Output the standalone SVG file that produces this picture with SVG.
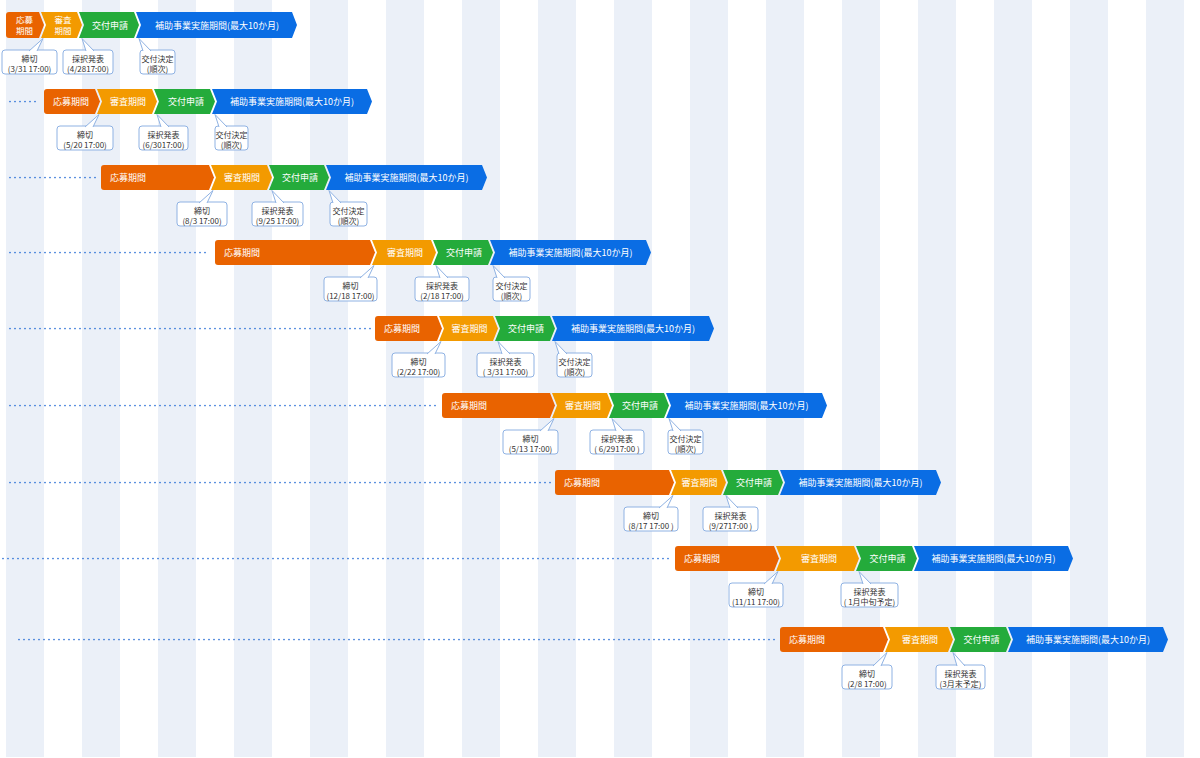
<svg xmlns="http://www.w3.org/2000/svg" width="1200" height="758" viewBox="0 0 1200 758">
<defs>
<style>
.bg{fill:#ffffff}
.st{fill:#ebf0f8}
.o{fill:#e96300}
.y{fill:#f39a00}
.g{fill:#24ab3b}
.b{fill:#0a6de4}
.t{fill:#ffffff;font-family:"Noto Sans CJK JP","Noto Sans",sans-serif;font-size:9px}
.t2{fill:#ffffff;font-family:"Noto Sans CJK JP","Noto Sans",sans-serif;font-size:8.5px;text-anchor:middle}
.c{text-anchor:middle}
.cb{fill:#ffffff;stroke:#8fb2e3;stroke-width:1}
.ct{fill:#333333;font-family:"Noto Sans CJK JP","Noto Sans",sans-serif;font-size:8px;text-anchor:middle}
.dot{fill:none;stroke:#2a6fd6;stroke-width:1.7;stroke-linecap:round;stroke-dasharray:0 5}
</style>
</defs>
<rect class="bg" x="0" y="0" width="1200" height="758"/>
<g id="stripes">
<rect class="st" x="6" y="0" width="38" height="757"/>
<rect class="st" x="82" y="0" width="38" height="757"/>
<rect class="st" x="158" y="0" width="38" height="757"/>
<rect class="st" x="234" y="0" width="38" height="757"/>
<rect class="st" x="310" y="0" width="38" height="757"/>
<rect class="st" x="386" y="0" width="38" height="757"/>
<rect class="st" x="462" y="0" width="38" height="757"/>
<rect class="st" x="538" y="0" width="38" height="757"/>
<rect class="st" x="614" y="0" width="38" height="757"/>
<rect class="st" x="690" y="0" width="38" height="757"/>
<rect class="st" x="766" y="0" width="38" height="757"/>
<rect class="st" x="842" y="0" width="38" height="757"/>
<rect class="st" x="918" y="0" width="38" height="757"/>
<rect class="st" x="994" y="0" width="38" height="757"/>
<rect class="st" x="1070" y="0" width="38" height="757"/>
<rect class="st" x="1146" y="0" width="38" height="757"/>
</g>
<g id="connectors">
<line class="dot" x1="10" y1="101.5" x2="40" y2="101.5"/>
<line class="dot" x1="10" y1="177.5" x2="96" y2="177.5"/>
<line class="dot" x1="10" y1="252.5" x2="210" y2="252.5"/>
<line class="dot" x1="10" y1="328.5" x2="371" y2="328.5"/>
<line class="dot" x1="10" y1="405.5" x2="437" y2="405.5"/>
<line class="dot" x1="10" y1="482.5" x2="551" y2="482.5"/>
<line class="dot" x1="3" y1="558.5" x2="671" y2="558.5"/>
<line class="dot" x1="19" y1="639.5" x2="775" y2="639.5"/>
</g>

<g id="row1">
<g id="r1-apply"><path class="o" d="M9,12 H39 L44,25 L39,38 H9 Q6,38 6,35 V15 Q6,12 9,12 Z"/><text class="t2" x="24.5" y="23"><tspan x="24.5" y="23">応募</tspan><tspan x="24.5" y="33.5">期間</tspan></text></g>
<g id="r1-review"><path class="y" d="M41,12 H77 L82,25 L77,38 H41 L46,25 Z"/><text class="t2" x="63" y="23"><tspan x="63" y="23">審査</tspan><tspan x="63" y="33.5">期間</tspan></text></g>
<g id="r1-grant"><path class="g" d="M79,12 H134 L139,25 L134,38 H79 L84,25 Z"/><text class="t c" x="110" y="28.5">交付申請</text></g>
<g id="r1-impl"><path class="b" d="M136,12 H292 L297,25 L292,38 H136 L141,25 Z"/><text class="t c" x="217" y="28.5">補助事業実施期間(最大10か月)</text></g>
<g id="r1-c1"><rect class="cb" x="2" y="50" width="55" height="24" rx="3"/><polyline class="cb" points="29,51 43,38.5 37,51"/><text class="ct" x="29.5" y="62">締切</text><text class="ct" x="29.5" y="71.5">(3/31 17:00)</text></g>
<g id="r1-c2"><rect class="cb" x="63" y="50" width="50" height="24" rx="3"/><polyline class="cb" points="86,51 82,38.5 94,51"/><text class="ct" x="88" y="62">採択発表</text><text class="ct" x="88" y="71.5">(4/2817:00)</text></g>
<g id="r1-c3"><rect class="cb" x="140" y="50" width="35" height="24" rx="3"/><polyline class="cb" points="143,51 139,38.5 151,51"/><text class="ct" x="157.5" y="62">交付決定</text><text class="ct" x="157.5" y="71.5">(順次)</text></g>
</g>

<g id="row2">
<g id="r2-apply"><path class="o" d="M47,89 H95 L100,101.5 L95,114 H47 Q44,114 44,111 V92 Q44,89 47,89 Z"/><text class="t" x="53" y="104.7">応募期間</text></g>
<g id="r2-review"><path class="y" d="M97,89 H152 L157,101.5 L152,114 H97 L102,101.5 Z"/><text class="t c" x="128" y="104.7">審査期間</text></g>
<g id="r2-grant"><path class="g" d="M154,89 H210 L215,101.5 L210,114 H154 L159,101.5 Z"/><text class="t c" x="186" y="104.7">交付申請</text></g>
<g id="r2-impl"><path class="b" d="M212,89 H367 L372,101.5 L367,114 H212 L217,101.5 Z"/><text class="t c" x="292" y="104.7">補助事業実施期間(最大10か月)</text></g>
<g id="r2-c1"><rect class="cb" x="57" y="126" width="56" height="24" rx="3"/><polyline class="cb" points="85,127 99,114.5 93,127"/><text class="ct" x="85" y="138">締切</text><text class="ct" x="85" y="147.5">(5/20 17:00)</text></g>
<g id="r2-c2"><rect class="cb" x="139" y="126" width="49" height="24" rx="3"/><polyline class="cb" points="161,127 157,114.5 169,127"/><text class="ct" x="163.5" y="138">採択発表</text><text class="ct" x="163.5" y="147.5">(6/3017:00)</text></g>
<g id="r2-c3"><rect class="cb" x="215" y="126" width="33" height="24" rx="3"/><polyline class="cb" points="219,127 215,114.5 227,127"/><text class="ct" x="231.5" y="138">交付決定</text><text class="ct" x="231.5" y="147.5">(順次)</text></g>
</g>

<g id="row3">
<g id="r3-apply"><path class="o" d="M104,165 H209 L214,177.5 L209,190 H104 Q101,190 101,187 V168 Q101,165 104,165 Z"/><text class="t" x="110" y="180.7">応募期間</text></g>
<g id="r3-review"><path class="y" d="M211,165 H267 L272,177.5 L267,190 H211 L216,177.5 Z"/><text class="t c" x="242" y="180.7">審査期間</text></g>
<g id="r3-grant"><path class="g" d="M269,165 H324 L329,177.5 L324,190 H269 L274,177.5 Z"/><text class="t c" x="300" y="180.7">交付申請</text></g>
<g id="r3-impl"><path class="b" d="M326,165 H482 L487,177.5 L482,190 H326 L331,177.5 Z"/><text class="t c" x="406.5" y="180.7">補助事業実施期間(最大10か月)</text></g>
<g id="r3-c1"><rect class="cb" x="177" y="202" width="50" height="24" rx="3"/><polyline class="cb" points="199,203 213,190.5 207,203"/><text class="ct" x="202" y="214">締切</text><text class="ct" x="202" y="223.5">(8/3 17:00)</text></g>
<g id="r3-c2"><rect class="cb" x="252" y="202" width="51" height="24" rx="3"/><polyline class="cb" points="276,203 272,190.5 284,203"/><text class="ct" x="277.5" y="214">採択発表</text><text class="ct" x="277.5" y="223.5">(9/25 17:00)</text></g>
<g id="r3-c3"><rect class="cb" x="330" y="202" width="37" height="24" rx="3"/><polyline class="cb" points="333,203 329,190.5 341,203"/><text class="ct" x="348.5" y="214">交付決定</text><text class="ct" x="348.5" y="223.5">(順次)</text></g>
</g>

<g id="row4">
<g id="r4-apply"><path class="o" d="M218,240 H370 L375,252.5 L370,265 H218 Q215,265 215,262 V243 Q215,240 218,240 Z"/><text class="t" x="224" y="255.7">応募期間</text></g>
<g id="r4-review"><path class="y" d="M372,240 H431 L436,252.5 L431,265 H372 L377,252.5 Z"/><text class="t c" x="405" y="255.7">審査期間</text></g>
<g id="r4-grant"><path class="g" d="M433,240 H488 L493,252.5 L488,265 H433 L438,252.5 Z"/><text class="t c" x="464" y="255.7">交付申請</text></g>
<g id="r4-impl"><path class="b" d="M490,240 H646 L651,252.5 L646,265 H490 L495,252.5 Z"/><text class="t c" x="570.5" y="255.7">補助事業実施期間(最大10か月)</text></g>
<g id="r4-c1"><rect class="cb" x="324" y="277" width="53" height="24" rx="3"/><polyline class="cb" points="360,278 374,265.5 368,278"/><text class="ct" x="350.5" y="289">締切</text><text class="ct" x="350.5" y="298.5">(12/18 17:00)</text></g>
<g id="r4-c2"><rect class="cb" x="415" y="277" width="54" height="24" rx="3"/><polyline class="cb" points="440,278 436,265.5 448,278"/><text class="ct" x="442" y="289">採択発表</text><text class="ct" x="442" y="298.5">(2/18 17:00)</text></g>
<g id="r4-c3"><rect class="cb" x="493" y="277" width="37" height="24" rx="3"/><polyline class="cb" points="497,278 493,265.5 505,278"/><text class="ct" x="511.5" y="289">交付決定</text><text class="ct" x="511.5" y="298.5">(順次)</text></g>
</g>

<g id="row5">
<g id="r5-apply"><path class="o" d="M378,316 H437 L442,328.5 L437,341 H378 Q375,341 375,338 V319 Q375,316 378,316 Z"/><text class="t" x="384" y="331.7">応募期間</text></g>
<g id="r5-review"><path class="y" d="M439,316 H493 L498,328.5 L493,341 H439 L444,328.5 Z"/><text class="t c" x="469.5" y="331.7">審査期間</text></g>
<g id="r5-grant"><path class="g" d="M495,316 H550 L555,328.5 L550,341 H495 L500,328.5 Z"/><text class="t c" x="526" y="331.7">交付申請</text></g>
<g id="r5-impl"><path class="b" d="M552,316 H709 L714,328.5 L709,341 H552 L557,328.5 Z"/><text class="t c" x="633" y="331.7">補助事業実施期間(最大10か月)</text></g>
<g id="r5-c1"><rect class="cb" x="392" y="353" width="53" height="24" rx="3"/><polyline class="cb" points="427,354 441,341.5 435,354"/><text class="ct" x="418.5" y="365">締切</text><text class="ct" x="418.5" y="374.5">(2/22 17:00)</text></g>
<g id="r5-c2"><rect class="cb" x="477" y="353" width="57" height="24" rx="3"/><polyline class="cb" points="502,354 498,341.5 510,354"/><text class="ct" x="505.5" y="365">採択発表</text><text class="ct" x="505.5" y="374.5">( 3/31 17:00)</text></g>
<g id="r5-c3"><rect class="cb" x="557" y="353" width="35" height="24" rx="3"/><polyline class="cb" points="559,354 555,341.5 567,354"/><text class="ct" x="574.5" y="365">交付決定</text><text class="ct" x="574.5" y="374.5">(順次)</text></g>
</g>

<g id="row6">
<g id="r6-apply"><path class="o" d="M445,393 H550 L555,405.5 L550,418 H445 Q442,418 442,415 V396 Q442,393 445,393 Z"/><text class="t" x="451" y="408.7">応募期間</text></g>
<g id="r6-review"><path class="y" d="M552,393 H607 L612,405.5 L607,418 H552 L557,405.5 Z"/><text class="t c" x="583" y="408.7">審査期間</text></g>
<g id="r6-grant"><path class="g" d="M609,393 H664 L669,405.5 L664,418 H609 L614,405.5 Z"/><text class="t c" x="640" y="408.7">交付申請</text></g>
<g id="r6-impl"><path class="b" d="M666,393 H822 L827,405.5 L822,418 H666 L671,405.5 Z"/><text class="t c" x="746.5" y="408.7">補助事業実施期間(最大10か月)</text></g>
<g id="r6-c1"><rect class="cb" x="503" y="430" width="55" height="24" rx="3"/><polyline class="cb" points="540,431 554,418.5 548,431"/><text class="ct" x="530.5" y="442">締切</text><text class="ct" x="530.5" y="451.5">(5/13 17:00)</text></g>
<g id="r6-c2"><rect class="cb" x="590" y="430" width="54" height="24" rx="3"/><polyline class="cb" points="616,431 612,418.5 624,431"/><text class="ct" x="617" y="442">採択発表</text><text class="ct" x="617" y="451.5">( 6/2917:00 )</text></g>
<g id="r6-c3"><rect class="cb" x="668" y="430" width="35" height="24" rx="3"/><polyline class="cb" points="673,431 669,418.5 681,431"/><text class="ct" x="685.5" y="442">交付決定</text><text class="ct" x="685.5" y="451.5">(順次)</text></g>
</g>

<g id="row7">
<g id="r7-apply"><path class="o" d="M558,470 H669 L674,482.5 L669,495 H558 Q555,495 555,492 V473 Q555,470 558,470 Z"/><text class="t" x="564" y="485.7">応募期間</text></g>
<g id="r7-review"><path class="y" d="M671,470 H721 L726,482.5 L721,495 H671 L676,482.5 Z"/><text class="t c" x="699.5" y="485.7">審査期間</text></g>
<g id="r7-grant"><path class="g" d="M723,470 H778 L783,482.5 L778,495 H723 L728,482.5 Z"/><text class="t c" x="754" y="485.7">交付申請</text></g>
<g id="r7-impl"><path class="b" d="M780,470 H936 L941,482.5 L936,495 H780 L785,482.5 Z"/><text class="t c" x="860.5" y="485.7">補助事業実施期間(最大10か月)</text></g>
<g id="r7-c1"><rect class="cb" x="624" y="507" width="54" height="24" rx="3"/><polyline class="cb" points="659,508 673,495.5 667,508"/><text class="ct" x="651" y="519">締切</text><text class="ct" x="651" y="528.5">(8/17 17:00 )</text></g>
<g id="r7-c2"><rect class="cb" x="703" y="507" width="55" height="24" rx="3"/><polyline class="cb" points="730,508 726,495.5 738,508"/><text class="ct" x="730.5" y="519">採択発表</text><text class="ct" x="730.5" y="528.5">(9/2717:00 )</text></g>
</g>

<g id="row8">
<g id="r8-apply"><path class="o" d="M678,546 H774 L779,558.5 L774,571 H678 Q675,571 675,568 V549 Q675,546 678,546 Z"/><text class="t" x="684" y="561.7">応募期間</text></g>
<g id="r8-review"><path class="y" d="M776,546 H854 L859,558.5 L854,571 H776 L781,558.5 Z"/><text class="t c" x="819" y="561.7">審査期間</text></g>
<g id="r8-grant"><path class="g" d="M856,546 H912 L917,558.5 L912,571 H856 L861,558.5 Z"/><text class="t c" x="887.5" y="561.7">交付申請</text></g>
<g id="r8-impl"><path class="b" d="M914,546 H1068 L1073,558.5 L1068,571 H914 L919,558.5 Z"/><text class="t c" x="993.5" y="561.7">補助事業実施期間(最大10か月)</text></g>
<g id="r8-c1"><rect class="cb" x="729" y="583" width="54" height="24" rx="3"/><polyline class="cb" points="764,584 778,571.5 772,584"/><text class="ct" x="756" y="595">締切</text><text class="ct" x="756" y="604.5">(11/11 17:00)</text></g>
<g id="r8-c2"><rect class="cb" x="841" y="583" width="57" height="24" rx="3"/><polyline class="cb" points="863,584 859,571.5 871,584"/><text class="ct" x="869.5" y="595">採択発表</text><text class="ct" x="869.5" y="604.5">( 1月中旬予定)</text></g>
</g>

<g id="row9">
<g id="r9-apply"><path class="o" d="M783,627 H883 L888,639.5 L883,652 H783 Q780,652 780,649 V630 Q780,627 783,627 Z"/><text class="t" x="789" y="642.7">応募期間</text></g>
<g id="r9-review"><path class="y" d="M885,627 H948 L953,639.5 L948,652 H885 L890,639.5 Z"/><text class="t c" x="920" y="642.7">審査期間</text></g>
<g id="r9-grant"><path class="g" d="M950,627 H1006 L1011,639.5 L1006,652 H950 L955,639.5 Z"/><text class="t c" x="981.5" y="642.7">交付申請</text></g>
<g id="r9-impl"><path class="b" d="M1008,627 H1163 L1168,639.5 L1163,652 H1008 L1013,639.5 Z"/><text class="t c" x="1088" y="642.7">補助事業実施期間(最大10か月)</text></g>
<g id="r9-c1"><rect class="cb" x="842" y="665" width="50" height="24" rx="3"/><polyline class="cb" points="873,666 887,652.5 881,666"/><text class="ct" x="867" y="677">締切</text><text class="ct" x="867" y="686.5">(2/8 17:00)</text></g>
<g id="r9-c2"><rect class="cb" x="936" y="665" width="49" height="24" rx="3"/><polyline class="cb" points="957,666 953,652.5 965,666"/><text class="ct" x="960.5" y="677">採択発表</text><text class="ct" x="960.5" y="686.5">(3月末予定)</text></g>
</g>
</svg>
